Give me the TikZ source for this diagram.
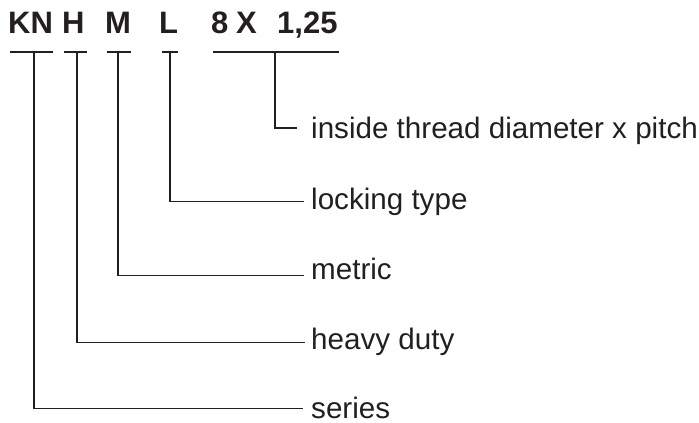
\documentclass[tikz,border=0pt]{standalone}
\usepackage{fontspec}
\setmainfont{Liberation Sans}
\definecolor{ink}{HTML}{231F20}
\begin{document}
\begin{tikzpicture}[x=1pt,y=-1pt,
  hdr/.style={anchor=base west,inner sep=0pt,text=ink,font=\fontsize{31}{36}\selectfont\bfseries},
  lbl/.style={anchor=base west,inner sep=0pt,text=ink,font=\fontsize{29.6}{35}\selectfont},
  ln/.style={draw=ink,line width=1.8pt}]
\useasboundingbox (0,0) rectangle (699,423);
% header texts
\node[hdr] (kn) at (8,33) {KN};
\node[hdr] (h) at (62,33) {H};
\node[hdr] (m) at (105,33) {M};
\node[hdr] (l) at (159,33) {L};
\node[hdr] (d) at (211,33) {8};
\node[hdr] (x) at (236,33) {X};
\node[hdr] (p) at (277,33) {1,25};
% bars
\coordinate (kna) at (10,52); \coordinate (knb) at (53,52); \coordinate (knv) at (34,52);
\coordinate (ha) at (64,52); \coordinate (hb) at (87,52); \coordinate (hv) at (77,52);
\coordinate (ma) at (107,52); \coordinate (mb) at (131,52); \coordinate (mv) at (118,52);
\coordinate (la) at (162,52); \coordinate (lb) at (178,52); \coordinate (lv) at (170,52);
\coordinate (ta) at (213,52); \coordinate (tb) at (339,52); \coordinate (tv) at (275,52);
\draw[ln] (kna) -- (knb);
\draw[ln] (ha) -- (hb);
\draw[ln] (ma) -- (mb);
\draw[ln] (la) -- (lb);
\draw[ln] (ta) -- (tb);
% labels
\node[lbl] (t1) at (311,138) {inside thread diameter x pitch};
\node[lbl] (t2) at (311,209) {locking type};
\node[lbl] (t3) at (311,279) {metric};
\node[lbl] (t4) at (311,349) {heavy duty};
\node[lbl] (t5) at (311,418) {series};
% leg ends
\coordinate (e1) at (297,128);
\coordinate (e2) at (304,201.5);
\coordinate (e3) at (304,275.5);
\coordinate (e4) at (305,342.5);
\coordinate (e5) at (303,408.5);
\draw[ln] (tv) |- (e1);
\draw[ln] (lv) |- (e2);
\draw[ln] (mv) |- (e3);
\draw[ln] (hv) |- (e4);
\draw[ln] (knv) |- (e5);
\end{tikzpicture}
\end{document}
